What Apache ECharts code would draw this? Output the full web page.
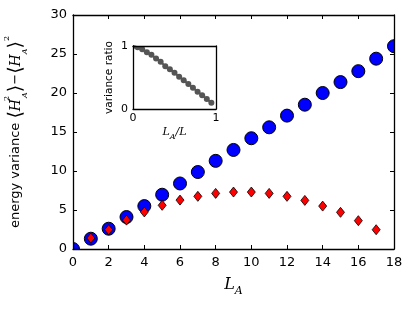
<!DOCTYPE html>
<html><head><meta charset="utf-8">
<script src="https://cdn.jsdelivr.net/npm/echarts@6/dist/echarts.min.js"></script>
<style>html,body{margin:0;padding:0;background:#fff}#c{width:415px;height:312px}</style>
</head><body><div id="c"></div>
<script>
var LA = [0,1,2,3,4,5,6,7,8,9,10,11,12,13,14,15,16,17,18];
var totalVar = [0,1.32,2.6,4.1,5.5,6.96,8.4,9.87,11.3,12.7,14.2,15.6,17.1,18.5,20.0,21.4,22.8,24.4,26.0];
var LApart = [1,2,3,4,5,6,7,8,9,10,11,12,13,14,15,16,17];
var partVar = [1.4,2.47,3.7,4.75,5.6,6.27,6.75,7.13,7.3,7.3,7.13,6.75,6.23,5.5,4.7,3.63,2.47];
var ratioX = [0,0.0556,0.111,0.167,0.222,0.278,0.333,0.389,0.444,0.5,0.556,0.611,0.667,0.722,0.778,0.833,0.889,0.944];
var ratioY = [1.0,0.98,0.95,0.90,0.86,0.80,0.75,0.68,0.63,0.575,0.51,0.457,0.395,0.337,0.275,0.22,0.16,0.10];
var xTicks = [0,2,4,6,8,10,12,14,16,18];
var yTicks = [0,5,10,15,20,25,30];

function pairs(xs, ys){ return ys.map(function(v,i){return [xs[i], v];}); }

var chart = echarts.init(document.getElementById('c'), null, {renderer:'canvas'});
var F = 'DejaVu Sans';
var S = 'DejaVu Serif';
var axLine = {show:true, onZero:false, lineStyle:{color:'#000', width:1.3}};
var tk = {show:true, inside:true, length:4, lineStyle:{color:'#000'}};

function circleItem(r, fill, stroke, lw){
  return function(params, api){
    var p = api.coord([api.value(0), api.value(1)]);
    return {type:'circle', shape:{cx:p[0], cy:p[1], r:r}, style:{fill:fill, stroke:stroke, lineWidth:lw}};
  };
}
function diamondItem(hw, hh){
  return function(params, api){
    var p = api.coord([api.value(0), api.value(1)]);
    return {type:'polygon', shape:{points:[[p[0],p[1]-hh],[p[0]+hw,p[1]],[p[0],p[1]+hh],[p[0]-hw,p[1]]]},
            style:{fill:'#ff0000', stroke:'#000', lineWidth:0.8}};
  };
}

chart.setOption({
  animation:false,
  grid:[
    {left:73, right:21, top:15, bottom:63, show:false, containLabel:false, outerBoundsMode:'none'},
    {left:133, top:46, width:83, height:63, show:false, z:10, containLabel:false, outerBoundsMode:'none'}
  ],
  xAxis:[
    {gridIndex:0, type:'value', min:0, max:18, interval:2, position:'bottom', z:5,
     axisLine:axLine, axisTick:tk,
     axisLabel:{fontFamily:F, fontSize:13, color:'#000', margin:7},
     splitLine:{show:false},
     name:'{i|L}{s|A}', nameLocation:'middle', nameGap:28,
     nameTextStyle:{rich:{i:{fontFamily:S, fontStyle:'italic', fontSize:16, color:'#000', verticalAlign:'top', lineHeight:20}, s:{fontFamily:S, fontStyle:'italic', fontSize:11, color:'#000', verticalAlign:'bottom', lineHeight:20}}}},
    {gridIndex:0, type:'value', min:0, max:18, interval:2, position:'top', z:5,
     axisLine:axLine, axisTick:tk,
     axisLabel:{show:false}, splitLine:{show:false}},
    {gridIndex:1, type:'value', min:0, max:1, interval:1, position:'bottom', z:15,
     axisLine:axLine, axisTick:{show:false},
     axisLabel:{fontFamily:F, fontSize:11, color:'#000', margin:4},
     splitLine:{show:false},
     name:'{i|L}{s|A}{i|/L}', nameLocation:'middle', nameGap:18,
     nameTextStyle:{rich:{i:{fontFamily:S, fontStyle:'italic', fontSize:11, color:'#000', verticalAlign:'top', lineHeight:14}, s:{fontFamily:S, fontStyle:'italic', fontSize:8, color:'#000', verticalAlign:'bottom', lineHeight:14}}}},
    {gridIndex:1, type:'value', min:0, max:1, position:'top', z:15,
     axisLine:axLine, axisTick:{show:false}, axisLabel:{show:false}, splitLine:{show:false}}
  ],
  yAxis:[
    {gridIndex:0, type:'value', min:0, max:30, interval:5, position:'left', z:5,
     axisLine:axLine, axisTick:tk,
     axisLabel:{fontFamily:F, fontSize:13, color:'#000', margin:6},
     splitLine:{show:false},
     name:'{a|energy variance }{b|⟨}{m|H}{p|2}{s|A}{b|⟩}{a|−}{b|⟨}{m|H}{s|A}{b|⟩}{q|2}',
     nameLocation:'middle', nameRotate:90, nameGap:44,
     nameTextStyle:{rich:{
       a:{fontFamily:F, fontSize:13, color:'#000', lineHeight:26},
       b:{fontFamily:F, fontSize:19, color:'#000', lineHeight:26},
       m:{fontFamily:S, fontStyle:'italic', fontSize:14, color:'#000', lineHeight:26},
       s:{fontFamily:S, fontStyle:'italic', fontSize:8, color:'#000', verticalAlign:'bottom', lineHeight:20},
       p:{fontFamily:S, fontSize:8, color:'#000', verticalAlign:'top', lineHeight:20, width:1},
       q:{fontFamily:S, fontSize:8, color:'#000', verticalAlign:'top', lineHeight:26}
     }}},
    {gridIndex:0, type:'value', min:0, max:30, interval:5, position:'right', z:5,
     axisLine:axLine, axisTick:tk,
     axisLabel:{show:false}, splitLine:{show:false}},
    {gridIndex:1, type:'value', min:0, max:1, interval:1, position:'left', z:15,
     axisLine:axLine, axisTick:{show:false},
     axisLabel:{fontFamily:F, fontSize:11, color:'#000', margin:5},
     splitLine:{show:false},
     name:'variance ratio', nameLocation:'middle', nameRotate:90, nameGap:18,
     nameTextStyle:{fontFamily:F, fontSize:10.5, color:'#000'}},
    {gridIndex:1, type:'value', min:0, max:1, position:'right', z:15,
     axisLine:axLine, axisTick:{show:false}, axisLabel:{show:false}, splitLine:{show:false}}
  ],
  series:[
    {type:'custom', xAxisIndex:0, yAxisIndex:0, data:pairs(LA,totalVar), clip:true, z:2,
     renderItem:circleItem(6.5,'#0000ff','#000',1)},
    {type:'custom', xAxisIndex:0, yAxisIndex:0, data:pairs(LApart,partVar), clip:true, z:3,
     renderItem:diamondItem(4,5)},
    {type:'line', xAxisIndex:2, yAxisIndex:2, data:pairs(ratioX,ratioY), showSymbol:false, symbol:'none',
     lineStyle:{color:'#555', width:2}, clip:true, z:12},
    {type:'custom', xAxisIndex:2, yAxisIndex:2, data:pairs(ratioX,ratioY), clip:true, z:13,
     renderItem:circleItem(3,'#555','#555',0)}
  ]
});
</script></body></html>
